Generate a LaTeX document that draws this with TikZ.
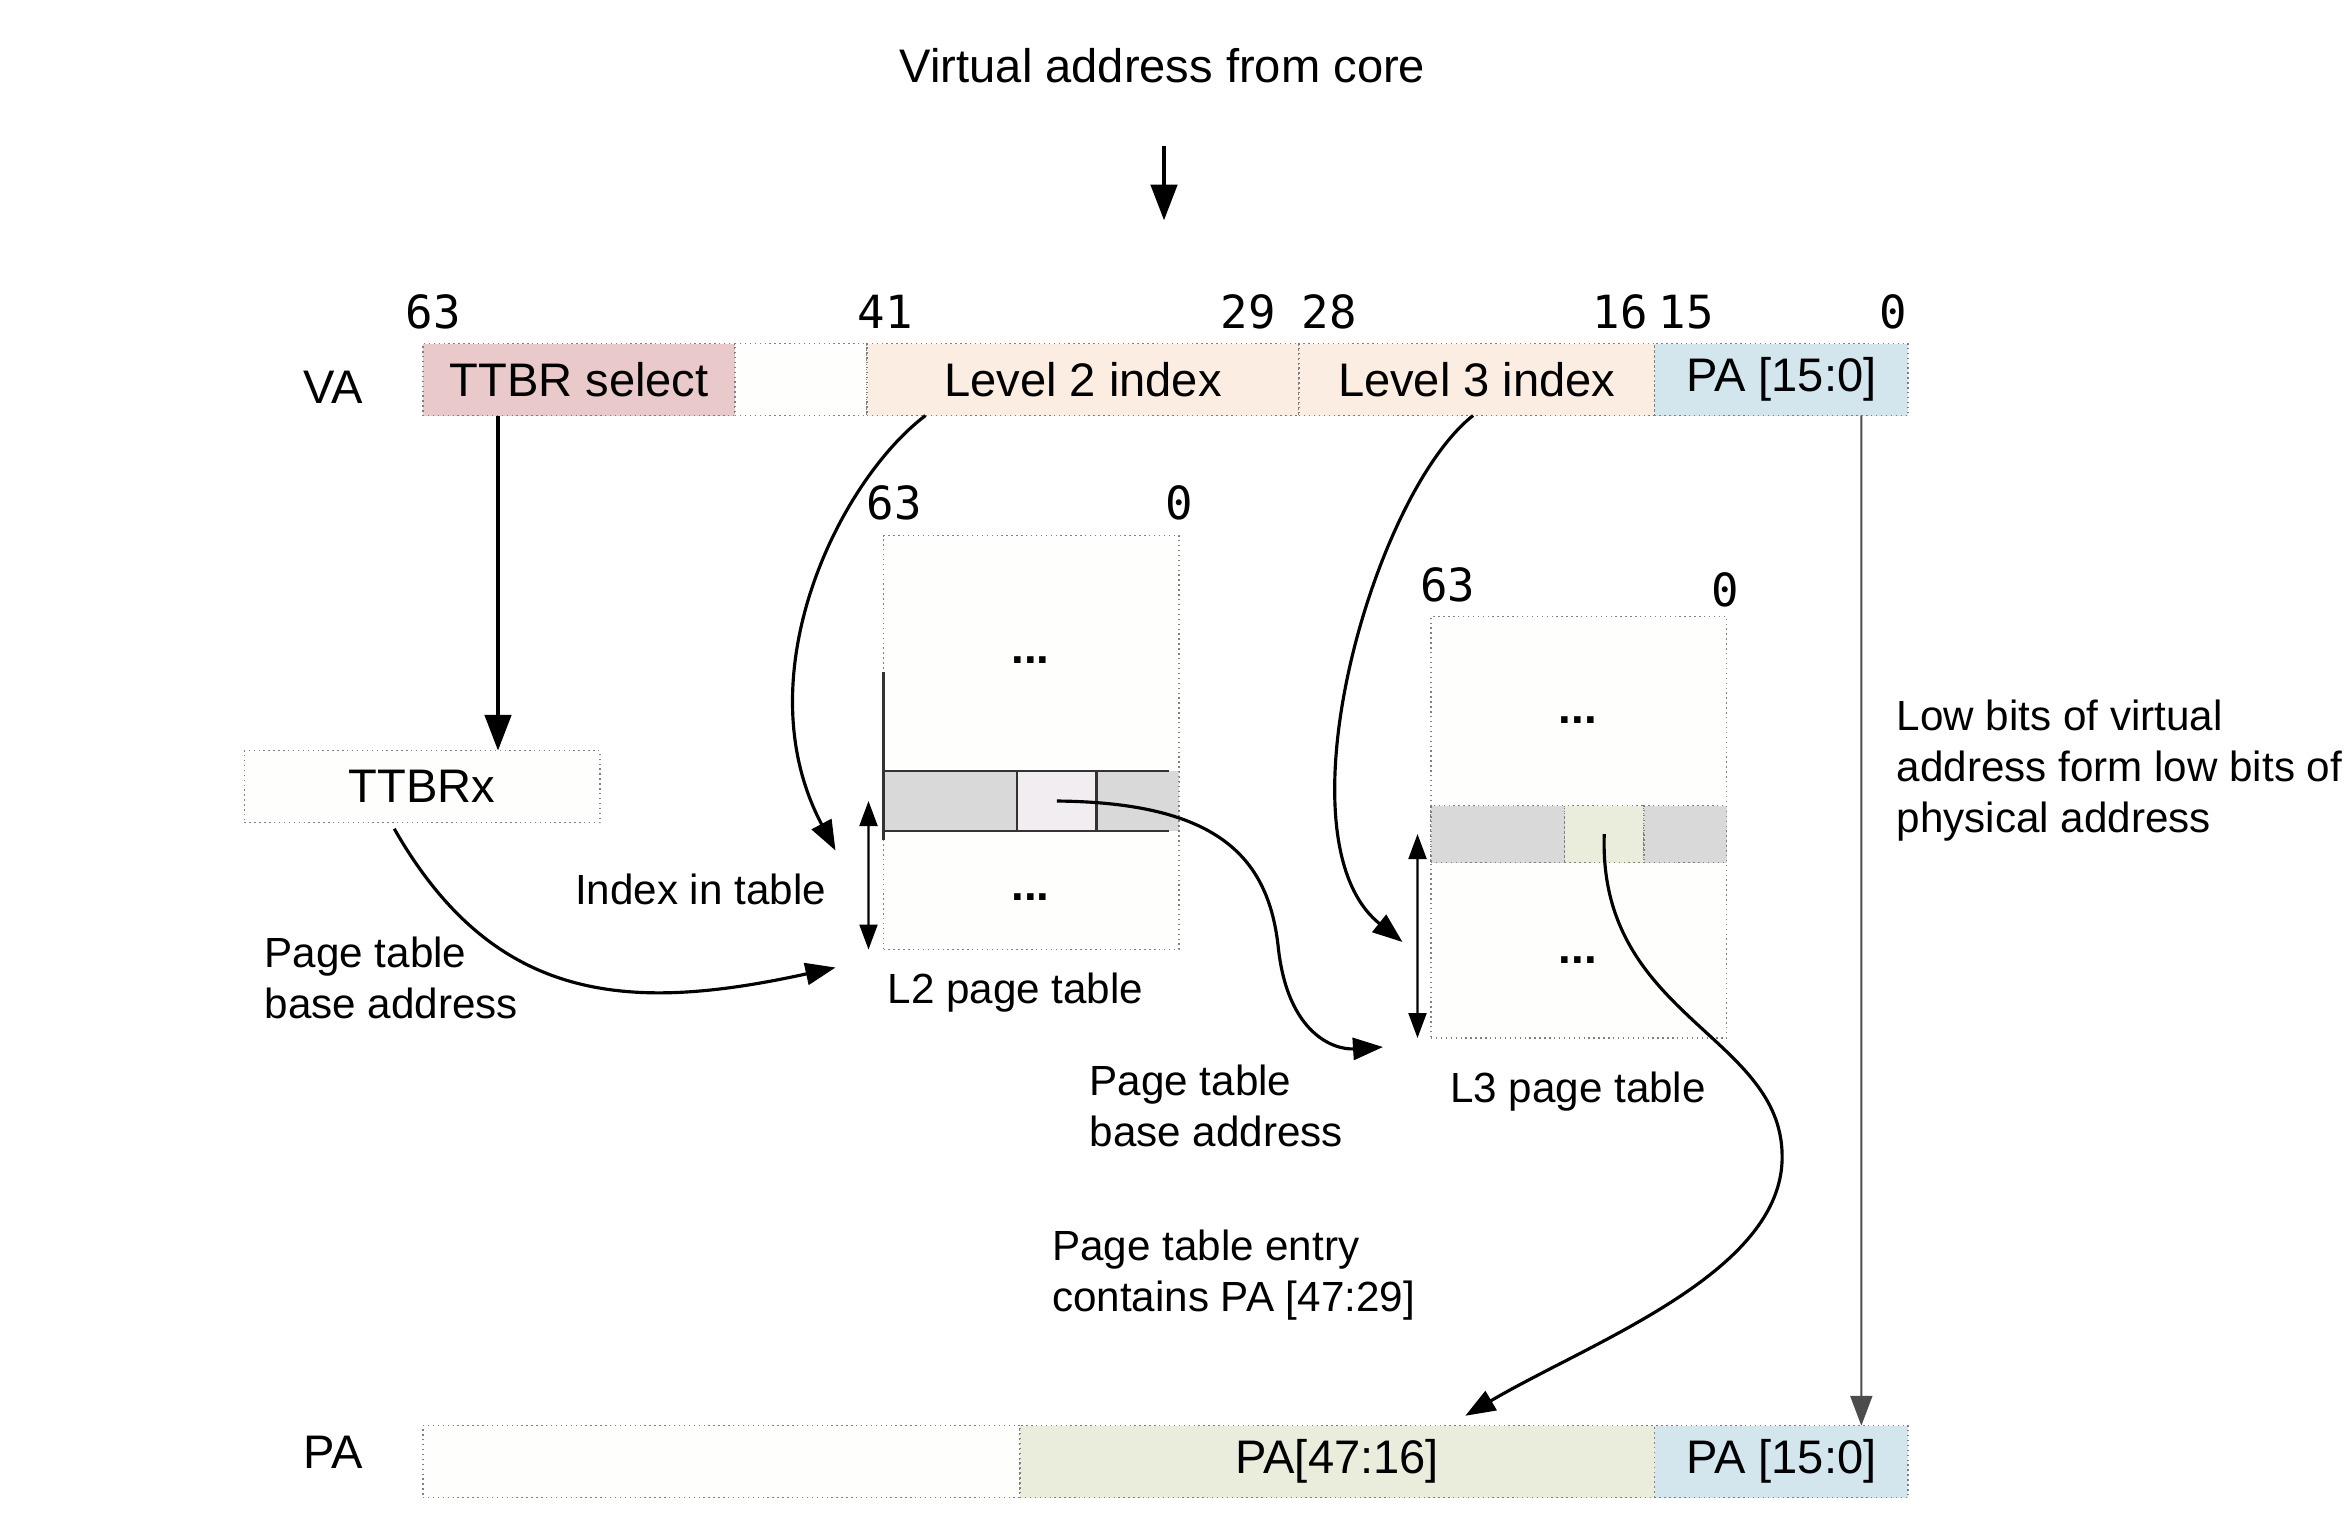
\documentclass[tikz,border=0pt]{standalone}
\usepackage{fontspec}
\setmainfont{Liberation Sans}
\newfontfamily\bitfont{DejaVu Sans Mono}
\usetikzlibrary{positioning,arrows.meta}

\definecolor{ttbrpink}{HTML}{E9C9C9}
\definecolor{idxpeach}{HTML}{FCEDE3}
\definecolor{lowblue}{HTML}{D3E6EE}
\definecolor{entrygreen}{HTML}{EBEDDC}
\definecolor{rowgrey}{HTML}{D9D9DA}
\definecolor{selpink}{HTML}{F1EDF0}
\definecolor{offwhite}{HTML}{FEFEFC}

\tikzset{
  seg/.style={draw=gray, densely dotted, fill=offwhite, text=black, minimum height=0.72cm, inner sep=0pt, outer sep=0pt, font=\fontsize{13.4}{16}\selectfont},
  tbl/.style={draw=gray, densely dotted, fill=offwhite, inner sep=0pt, outer sep=0pt},
  cell/.style={inner sep=0pt, outer sep=0pt},
  rowline/.style={draw=black!80, line width=0.8pt},
  bit/.style={font=\bitfont\fontsize{13}{15}\selectfont},
  lbl/.style={font=\fontsize{12}{14.5}\selectfont, align=left, inner sep=0pt},
  dots/.style={font=\fontsize{13}{15}\selectfont\bfseries, inner sep=0pt},
  tip/.style={-{Triangle[length=0.3cm,width=0.22cm]}},
  bigarrow/.style={-{Triangle[length=0.36cm,width=0.26cm]}, line width=1.4pt},
  curve/.style={tip, line width=0.9pt},
  thinarrow/.style={tip, draw=black!70, line width=0.6pt},
  both/.style={{Triangle[length=0.25cm,width=0.18cm]}-{Triangle[length=0.25cm,width=0.18cm]}, line width=0.6pt},
}

\begin{document}
\begin{tikzpicture}[x=0.015cm, y=-0.015cm]
\useasboundingbox (0,0) rectangle (1568,1013);

\node[font=\fontsize{13.4}{16}\selectfont] (vatext) at (775,44) {Virtual address from core};
\coordinate (corein) at (776,97);
\coordinate (coreout) at (776,147);
\draw[bigarrow] (corein) -- (coreout);

% virtual address
\node[lbl, font=\fontsize{13.4}{16}\selectfont] (valbl) at (222,258) {VA};
\node[seg, fill=ttbrpink, minimum width=3.12cm, anchor=west] (ttbrsel) at (282,253) {TTBR select};
\node[seg, minimum width=1.32cm, right=0pt of ttbrsel] (vagap) {};
\node[seg, fill=idxpeach, minimum width=4.32cm, right=0pt of vagap] (lvltwo) {Level 2 index};
\node[seg, fill=idxpeach, minimum width=3.555cm, right=0pt of lvltwo] (lvlthree) {Level 3 index};
\node[seg, fill=lowblue, minimum width=2.535cm, right=0pt of lvlthree] (valow) {PA [15:0]};
\foreach \b/\x in {63/289, 41/590, 29/832, 28/886, 16/1080, 15/1124, 0/1262}
  \node[bit] (va\b) at (\x,208) {\b};

% physical address
\node[lbl, font=\fontsize{13.4}{16}\selectfont] (palbl) at (222,968) {PA};
\node[seg, minimum width=5.97cm, anchor=west] (pagap) at (282,974.5) {};
\node[seg, fill=entrygreen, minimum width=6.345cm, right=0pt of pagap] (pahigh) {PA[47:16]};
\node[seg, fill=lowblue, minimum width=2.535cm, right=0pt of pahigh] (palow) {PA [15:0]};

\node[seg, minimum width=3.555cm] (ttbrx) at (281.5,524.5) {TTBRx};

% L2 table
\node[bit] (ltwohi) at (596,335) {63};
\node[bit] (ltwolo) at (786,335) {0};
\node[tbl, minimum width=2.955cm, minimum height=4.14cm] (ltwo) at (687.5,495) {};
\node[dots] (ltwotop) at (687,440) {...};
\node[dots] (ltwobot) at (687,598) {...};
\node[cell, fill=rowgrey, minimum width=1.335cm, minimum height=0.6cm, anchor=west] (ltwoa) at (589,534) {};
\node[cell, fill=selpink, minimum width=0.795cm, minimum height=0.6cm, right=0pt of ltwoa] (ltwob) {};
\node[cell, fill=rowgrey, minimum width=0.825cm, minimum height=0.6cm, right=0pt of ltwob] (ltwoc) {};
\draw[gray, densely dotted] (ltwoc.north east) -- (ltwoc.south east);
\draw[rowline] (ltwoa.north west) -- ++(190,0);
\draw[rowline] (ltwoa.south west) -- ++(190,0);
\draw[rowline] (ltwob.north west) -- (ltwob.south west);
\draw[rowline] (ltwob.north east) -- (ltwob.south east);
\draw[rowline] (589,448) -- (589,560);
\node[lbl] (ltwoname) at (677,662) {L2 page table};

% L3 table
\node[bit] (lthreehi) at (965,390) {63};
\node[bit] (lthreelo) at (1150,393) {0};
\node[tbl, minimum width=2.955cm, minimum height=4.215cm] (lthree) at (1052.5,551.5) {};
\node[dots] (lthreetop) at (1052,480) {...};
\node[dots] (lthreebot) at (1052,640) {...};
\node[cell, draw=gray, densely dotted, fill=rowgrey, minimum width=1.335cm, minimum height=0.57cm, anchor=west] (lthreea) at (954,556) {};
\node[cell, draw=gray, densely dotted, fill=entrygreen, minimum width=0.795cm, minimum height=0.57cm, right=0pt of lthreea] (lthreeb) {};
\node[cell, draw=gray, densely dotted, fill=rowgrey, minimum width=0.825cm, minimum height=0.57cm, right=0pt of lthreeb] (lthreec) {};
\node[lbl] (lthreename) at (1052,728) {L3 page table};

% index spans
\draw[both] ([xshift=-0.15cm]ltwoa.west) -- ([xshift=-0.15cm]ltwo.south west);
\draw[both] ([xshift=-0.135cm]lthreea.west) -- ([xshift=-0.135cm]lthree.south west);

% connectors
\draw[bigarrow] ([xshift=0.75cm]ttbrsel.south west) -- ([xshift=0.75cm]ttbrsel.south west |- ttbrx.north);

\coordinate (ltwobase) at (557,645);
\draw[curve] ([xshift=-0.28cm, yshift=-0.06cm]ttbrx.south) .. controls (330,670) and (420,675) .. (ltwobase);

\coordinate (ltwoidx) at (557,567);
\draw[curve] ([xshift=0.585cm]lvltwo.south west) .. controls (560,320) and (495,450) .. (ltwoidx);

\coordinate (lthreeidx) at (935,628);
\draw[curve] ([xshift=1.74cm]lvlthree.south west) .. controls (915,330) and (850,560) .. (lthreeidx);

\coordinate (lthreebase) at (922,698);
\draw[curve] (ltwob.center) .. controls (810,535) and (845,570) .. (852,630) .. controls (858,690) and (890,700) .. (lthreebase);

\draw[curve] (lthreeb.center) .. controls (1065,680) and (1192,690) .. (1188,775) .. controls (1184,850) and (1060,895) .. ([xshift=1.28cm, yshift=0.1cm]pahigh.north);

\draw[thinarrow] ([xshift=0.8cm]valow.south) -- ([xshift=0.8cm]palow.north);

% labels
\node[lbl] (idxlbl) at (467,593) {Index in table};
\node[lbl, anchor=west] (baseone) at (176,652) {Page table\\base address};
\node[lbl, anchor=west] (basetwo) at (726,737) {Page table\\base address};
\node[lbl, anchor=west] (entrylbl) at (701,850) {Page table entry\\contains PA [47:29]};
\node[lbl, anchor=west] (lowlbl) at (1264,514) {Low bits of virtual\\address form low bits of\\physical address};

\end{tikzpicture}
\end{document}
